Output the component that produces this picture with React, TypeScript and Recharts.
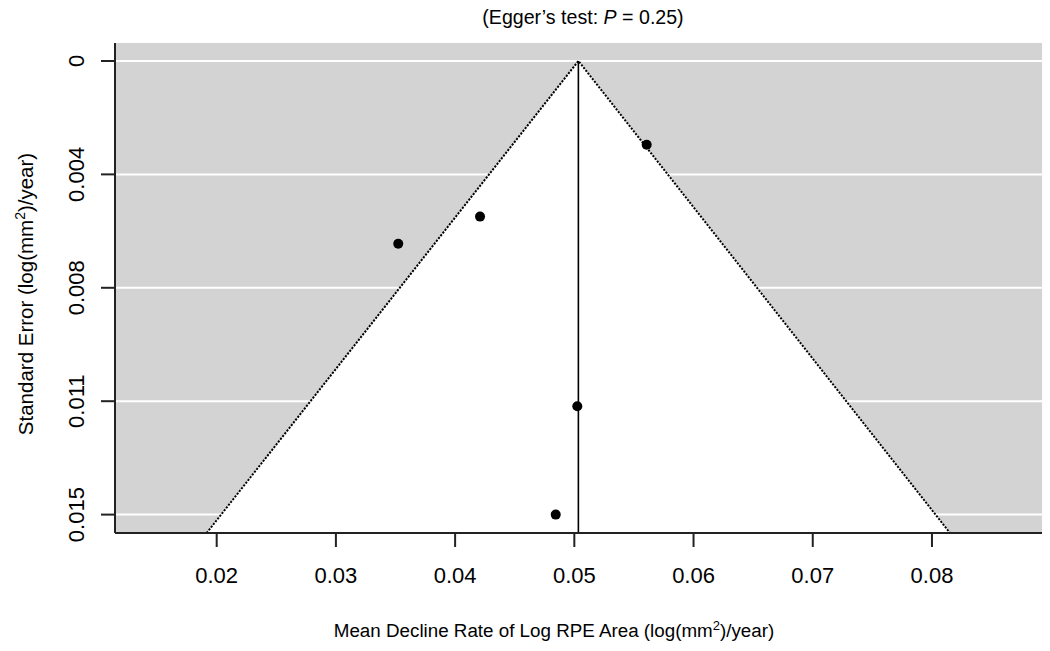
import { Area, CartesianGrid, ComposedChart, ReferenceLine, Scatter, XAxis, YAxis } from 'recharts';

// study estimates (mean decline rate) and their standard errors
const STUDY_EST = [0.05607, 0.04209, 0.03523, 0.05025, 0.04844];
const STUDY_SE = [0.00278, 0.00516, 0.00606, 0.01145, 0.01504];

// pooled estimate + pseudo-confidence funnel edges
const POOLED = 0.05034;
const FUNNEL_X = [0.01916, 0.05034, 0.08151];
const FUNNEL_SE = [0.01565, 0, 0.01565];

const X_TICKS = [0.02, 0.03, 0.04, 0.05, 0.06, 0.07, 0.08];
const Y_TICKS = [0, 0.00376, 0.00752, 0.01128, 0.01504];
const X_DOMAIN: [number, number] = [0.01147, 0.08923];
const Y_DOMAIN: [number, number] = [-0.000596, 0.01565];

const W = 1050;
const H = 651;
const FONT = '"Liberation Sans", Arial, sans-serif';
const BG = '#d3d3d3';
const AXIS = '#222';

const points = STUDY_EST.map((x, i) => ({ x, y: STUDY_SE[i] }));
const funnel = FUNNEL_X.map((x, i) => ({ x, y: FUNNEL_SE[i] }));

function fmtSE(v: number) {
  if (v === 0) return '0';
  return v.toFixed(3);
}

function YTick({ y, payload }: any) {
  return (
    <text
      x={84}
      y={y}
      transform={`rotate(-90, 84, ${y})`}
      textAnchor="middle"
      fontSize={22}
      fontFamily={FONT}
      fill="#000"
    >
      {fmtSE(payload.value)}
    </text>
  );
}

function XTick({ x, payload }: any) {
  return (
    <text x={x} y={583} textAnchor="middle" fontSize={22} fontFamily={FONT} fill="#000">
      {payload.value}
    </text>
  );
}

export default function App() {
  return (
    <div style={{ position: 'absolute', left: 0, top: 0, width: W, height: H, background: '#fff' }}>
      <ComposedChart width={W} height={H} margin={{ top: 43, right: 8, left: 0, bottom: 38 }}>
        <CartesianGrid vertical={false} fill={BG} stroke="#fff" strokeWidth={2} horizontalValues={Y_TICKS} />
        <XAxis
          type="number"
          dataKey="x"
          domain={X_DOMAIN}
          ticks={X_TICKS}
          allowDataOverflow
          height={80}
          tickSize={14}
          tick={<XTick />}
          axisLine={{ stroke: AXIS, strokeWidth: 2 }}
          tickLine={{ stroke: AXIS, strokeWidth: 2 }}
        />
        <YAxis
          type="number"
          dataKey="y"
          reversed
          domain={Y_DOMAIN}
          ticks={Y_TICKS}
          allowDataOverflow
          width={115}
          tickSize={14}
          tick={<YTick />}
          axisLine={{ stroke: AXIS, strokeWidth: 2 }}
          tickLine={{ stroke: AXIS, strokeWidth: 2 }}
        />
        <Area
          data={funnel}
          dataKey="y"
          type="linear"
          baseValue={Y_DOMAIN[1]}
          fill="#fff"
          fillOpacity={1}
          stroke="#000"
          strokeWidth={2}
          strokeDasharray="2 1.5"
          isAnimationActive={false}
          dot={false}
          activeDot={false}
        />
        <ReferenceLine
          segment={[
            { x: POOLED, y: 0 },
            { x: POOLED, y: Y_DOMAIN[1] },
          ]}
          stroke="#000"
          strokeWidth={1.6}
        />
        <Scatter data={points} fill="#000" isAnimationActive={false} shape={(p: any) => <circle cx={p.cx} cy={p.cy} r={5} fill="#000" />} />
      </ComposedChart>
      <svg width={W} height={H} style={{ position: 'absolute', left: 0, top: 0, pointerEvents: 'none' }} fontFamily={FONT}>
        <text x={583} y={24} textAnchor="middle" fontSize={19.6} fill="#000">
          (Egger’s test: <tspan fontStyle="italic">P</tspan> = 0.25)
        </text>
        <text x={554} y={637} textAnchor="middle" fontSize={18.8} fill="#000">
          Mean Decline Rate of Log RPE Area (log(mm<tspan dy={-7} fontSize={13}>2</tspan>
          <tspan dy={7}>)/year)</tspan>
        </text>
        <text x={33} y={294} transform="rotate(-90, 33, 294)" textAnchor="middle" fontSize={20.5} fill="#000">
          Standard Error (log(mm<tspan dy={-8} fontSize={14}>2</tspan>
          <tspan dy={8}>)/year)</tspan>
        </text>
      </svg>
    </div>
  );
}
